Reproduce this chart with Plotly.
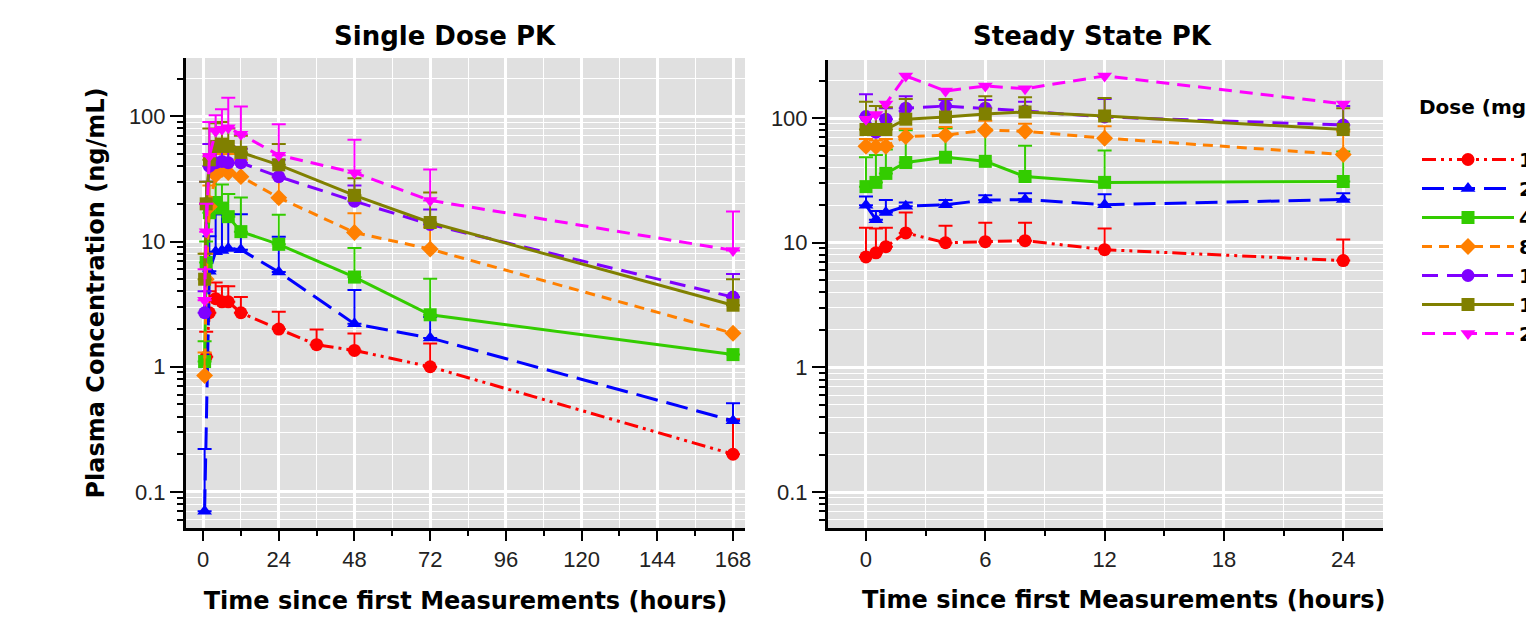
import plotly.graph_objects as go

# ---------------- data ----------------
doses = ["1", "2", "4", "8", "12", "16", "24"]

# Single dose PK (time in hours, mean concentration, upper error bar end)
sd_t_red = [1, 2, 4, 6, 8, 12, 24, 36, 48, 72, 168]
sd_y_red = [1.2, 2.7, 3.5, 3.3, 3.3, 2.7, 2.0, 1.5, 1.35, 1.0, 0.2]
sd_u_red = [1.9, 4.0, 4.7, 4.4, 4.4, 3.6, 2.75, 1.98, 1.84, 1.53, 0.38]

sd_t_blue = [0.5, 2, 4, 6, 8, 12, 24, 48, 72, 168]
sd_y_blue = [0.07, 5.8, 8.3, 8.5, 8.8, 8.6, 5.7, 2.2, 1.7, 0.37]
sd_u_blue = [0.22, 11, 16.5, 16.5, 16.5, 16.5, 10.9, 4.1, 2.5, 0.51]

sd_t_green = [0.5, 1, 2, 4, 6, 8, 12, 24, 48, 72, 168]
sd_y_green = [1.1, 6.8, 17, 20.5, 18.5, 15.8, 12.0, 9.5, 5.2, 2.6, 1.25]
sd_u_green = [1.6, 10, 30, 36, 28.6, 24, 22.5, 16.4, 8.9, 5.05, 1.25]

sd_t_orange = [0.5, 1, 2, 4, 6, 8, 12, 24, 48, 72, 168]
sd_y_orange = [0.85, 5.0, 19, 34, 37.5, 35.5, 33, 22.4, 11.8, 8.7, 1.85]
sd_u_orange = [1.3, 8, 28, 50, 52, 50, 45, 32.5, 16.8, 13, 1.85]

sd_t_purple = [0.5, 1, 2, 4, 6, 8, 12, 24, 48, 72, 168]
sd_y_purple = [2.7, 20, 40, 42.6, 43.6, 42.6, 42.6, 33, 21, 13.7, 3.6]
sd_u_purple = [4, 30, 60, 62, 60, 58, 55, 45, 28, 18, 5.5]

sd_t_olive = [0.5, 1, 2, 4, 6, 8, 12, 24, 48, 72, 168]
sd_y_olive = [5.0, 20, 45, 57.5, 60, 57.5, 51.5, 41, 23.4, 14.2, 3.1]
sd_u_olive = [8, 30, 80, 88, 90, 80, 70, 60, 32, 24.6, 5.0]

sd_t_magenta = [0.5, 1, 2, 4, 6, 8, 12, 24, 48, 72, 168]
sd_y_magenta = [3.4, 12, 48, 76, 79, 81, 72, 49, 35.5, 21.3, 8.5]
sd_u_magenta = [6, 20, 90, 102, 114, 141, 120, 86.5, 65, 37.7, 17.4]

# Steady state PK
ss_t = [0, 0.5, 1, 2, 4, 6, 8, 12, 24]
ss_y_red = [7.7, 8.3, 9.3, 12.0, 10.0, 10.2, 10.4, 8.8, 7.2]
ss_u_red = [13.2, 13, 13.2, 17.5, 13.7, 14.5, 14.5, 13, 10.6]
ss_y_blue = [20, 15.3, 17.5, 19.6, 20.2, 22, 22.2, 20.2, 22.2]
ss_u_blue = [23.5, 18, 22, 21, 22, 24, 25, 24.5, 25]
ss_y_green = [28.2, 30.5, 36, 44, 48.5, 45, 34, 30.5, 31]
ss_u_green = [48.5, 50.5, 56, 80, 83, 81, 60, 55, 54]
ss_y_orange = [59.5, 59, 59.5, 71, 73, 80, 78.5, 69, 51]
ss_u_orange = [68, 66, 68, 82, 85, 95, 90, 86, 78]
ss_y_purple = [103, 77, 98, 120, 125, 120, 114, 102, 88]
ss_u_purple = [155, 105, 120, 150, 140, 140, 135, 142, 125]
ss_y_olive = [81, 81, 81, 98, 102, 108, 112, 104, 81]
ss_u_olive = [135, 125, 122, 142, 142, 150, 147, 145, 120]
ss_y_magenta = [98, 107, 130, 218, 165, 181, 172, 218, 130]
ss_u_magenta = [98, 107, 130, 218, 165, 181, 172, 218, 130]

sd_x_ticks = [0, 24, 48, 72, 96, 120, 144, 168]
ss_x_ticks = [0, 6, 12, 18, 24]
y_ticks = [0.1, 1, 10, 100]
y_ticktext = ["0.1", "1", "10", "100"]
y_minor = [0.06, 0.07, 0.08, 0.09, 0.2, 0.3, 0.4, 0.5, 0.6, 0.7, 0.8, 0.9,
           2, 3, 4, 5, 6, 7, 8, 9, 20, 30, 40, 50, 60, 70, 80, 90, 200]

# ---------------- styles ----------------
colors = ["#ff0000", "#0000ff", "#33cc00", "#ff8000", "#7f00ff", "#808000", "#ff00ff"]
symbols = ["circle", "triangle-up", "square", "diamond", "circle", "square", "triangle-down"]
dashes = ["14px,5px,3px,5px,3px,5px", "22px,9px", "solid", "10px,7px",
          "16px,9px", "solid", "13px,8px"]

sd_series = [
    (sd_t_red, sd_y_red, sd_u_red),
    (sd_t_blue, sd_y_blue, sd_u_blue),
    (sd_t_green, sd_y_green, sd_u_green),
    (sd_t_orange, sd_y_orange, sd_u_orange),
    (sd_t_purple, sd_y_purple, sd_u_purple),
    (sd_t_olive, sd_y_olive, sd_u_olive),
    (sd_t_magenta, sd_y_magenta, sd_u_magenta),
]
ss_series = [
    (ss_t, ss_y_red, ss_u_red),
    (ss_t, ss_y_blue, ss_u_blue),
    (ss_t, ss_y_green, ss_u_green),
    (ss_t, ss_y_orange, ss_u_orange),
    (ss_t, ss_y_purple, ss_u_purple),
    (ss_t, ss_y_olive, ss_u_olive),
    (ss_t, ss_y_magenta, ss_u_magenta),
]

fig = go.Figure()


def add(series, xa, ya, show):
    for i, (t, y, u) in enumerate(series):
        err = [max(ui - yi, 0) for yi, ui in zip(y, u)]
        has_err = any(e > 0 for e in err)
        fig.add_trace(go.Scatter(
            x=t, y=y, xaxis=xa, yaxis=ya,
            mode="lines+markers",
            name=doses[i], legendgroup=doses[i], showlegend=show,
            line=dict(color=colors[i], width=3, dash=dashes[i]),
            marker=dict(symbol=symbols[i], size=13, color=colors[i],
                        line=dict(width=0)),
            error_y=dict(type="data", symmetric=False, array=err,
                         arrayminus=[0] * len(err), color=colors[i],
                         thickness=2, width=7, visible=has_err),
        ))


add(sd_series, "x", "y", True)
add(ss_series, "x2", "y2", False)

# the page body adds an 8px offset; the figure is laid out in page pixels
OFF = 8
W, H = 1534 - OFF, 618 - OFF


def px(x):
    return (x - OFF) / W


def py(y):
    return 1 - (y - OFF) / H


tickfont = dict(family="Liberation Sans, Arial", size=22, color="#222222")
titlefont = dict(family="DejaVu Sans", size=24, color="black", weight="bold")

common_x = dict(
    ticks="outside", ticklen=10, tickwidth=2, tickcolor="black",
    showline=True, linecolor="black", linewidth=3,
    showgrid=True, gridcolor="white", gridwidth=2.5, zeroline=False,
    tickfont=tickfont,
)
common_y = dict(
    type="log", range=[-1.288, 2.466],
    tickmode="array", tickvals=y_ticks, ticktext=y_ticktext,
    ticks="outside", ticklen=13, tickwidth=2, tickcolor="black",
    showline=True, linecolor="black", linewidth=3,
    showgrid=True, gridcolor="white", gridwidth=2.5, zeroline=False,
    tickfont=tickfont,
    minor=dict(tickmode="array", tickvals=y_minor, ticks="outside", ticklen=6,
               tickwidth=1.5, tickcolor="black", showgrid=True,
               gridcolor="white", gridwidth=1),
)

fig.update_layout(
    width=W, height=H,
    margin=dict(l=0, r=0, t=0, b=0, autoexpand=False),
    paper_bgcolor="white", plot_bgcolor="#e0e0e0",
    xaxis=dict(domain=[px(186), px(745)], range=[-5.4, 171.8], anchor="y",
               tickmode="array", tickvals=sd_x_ticks,
               minor=dict(dtick=12, tick0=0, ticks="outside", ticklen=5,
                          tickwidth=1.5, tickcolor="black", showgrid=True,
                          gridcolor="white", gridwidth=1),
               title=dict(text="Time since first Measurements (hours)",
                          font=titlefont, standoff=21),
               **common_x),
    yaxis=dict(domain=[py(528), py(58)], anchor="x",
               title=dict(text="Plasma Concentration (ng/mL)", font=titlefont,
                          standoff=18),
               **common_y),
    xaxis2=dict(domain=[px(828), px(1383)], range=[-1.91, 26.0], anchor="y2",
                tickmode="array", tickvals=ss_x_ticks,
                minor=dict(dtick=3, tick0=0, ticks="outside", ticklen=5,
                           tickwidth=1.5, tickcolor="black", showgrid=True,
                           gridcolor="white", gridwidth=1),
                **common_x),
    yaxis2=dict(domain=[py(528), py(60)], anchor="x2", **common_y),
    legend=dict(
        x=px(1417), y=py(88), xanchor="left", yanchor="top",
        title=dict(text="Dose (mg)<br> ",
                   font=dict(family="DejaVu Sans", size=20, color="black",
                             weight="bold")),
        font=dict(family="DejaVu Sans", size=20, color="black", weight="bold"),
        itemwidth=92, bgcolor="rgba(0,0,0,0)", tracegroupgap=0,
    ),
    annotations=[
        dict(text="Single Dose PK", x=px(445), y=py(36),
             xref="paper", yref="paper", showarrow=False,
             xanchor="center", yanchor="middle",
             font=dict(family="DejaVu Sans", size=26, color="black",
                       weight="bold")),
        dict(text="Steady State PK", x=px(1092), y=py(36),
             xref="paper", yref="paper", showarrow=False,
             xanchor="center", yanchor="middle",
             font=dict(family="DejaVu Sans", size=26, color="black",
                       weight="bold")),
        dict(text="Time since first Measurements (hours)", x=px(1123), y=py(600),
             xref="paper", yref="paper", showarrow=False,
             xanchor="center", yanchor="middle", font=titlefont),
    ],
)

fig.write_html("out.html")
